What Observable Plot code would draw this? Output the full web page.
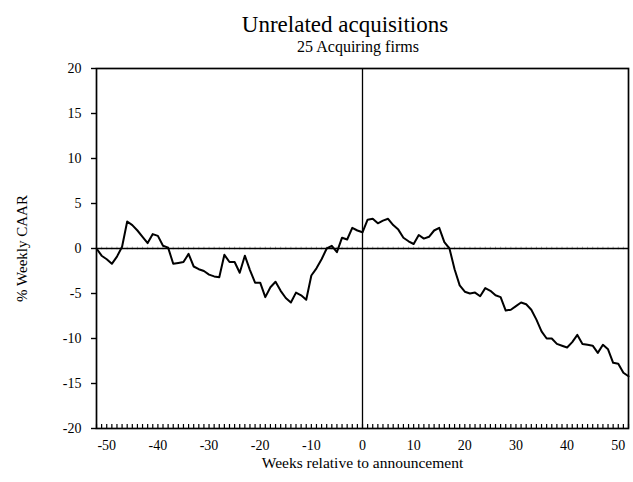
<!DOCTYPE html>
<html>
<head>
<meta charset="utf-8">
<script src="https://cdn.jsdelivr.net/npm/d3@7"></script>
<script src="https://cdn.jsdelivr.net/npm/@observablehq/plot@0.6"></script>
<style>
  body { margin: 0; background: #fff; font-family: "Liberation Serif", "DejaVu Serif", serif; color: #000; }
  #wrap { width: 633px; height: 482px; position: relative; overflow: hidden; }
  #head { height: 56px; position: relative; }
  .t { position: absolute; left: 0; width: 633px; box-sizing: border-box; text-align: center; white-space: nowrap; }
  #title { top: 11px; font-size: 23px; line-height: 28px; padding-left: 57px; }
  #subtitle { top: 38px; font-size: 16px; line-height: 18px; padding-left: 83px; }
</style>
</head>
<body>
<div id="wrap">
  <div id="head">
    <div id="title" class="t">Unrelated acquisitions</div>
    <div id="subtitle" class="t">25 Acquiring firms</div>
  </div>
  <div id="chart"></div>
</div>
<script>
const titleText = "Unrelated acquisitions";
const subtitleText = "25 Acquiring firms";
const xLabel = "Weeks relative to announcement";
const yLabel = "% Weekly CAAR";

const weeks = [
  -52,-51,-50,-49,-48,-47,-46,-45,-44,-43,-42,-41,-40,-39,-38,-37,-36,-35,-34,-33,
  -32,-31,-30,-29,-28,-27,-26,-25,-24,-23,-22,-21,-20,-19,-18,-17,-16,-15,-14,-13,
  -12,-11,-10,-9,-8,-7,-6,-5,-4,-3,-2,-1,0,1,2,3,4,5,6,7,
  8,9,10,11,12,13,14,15,16,17,18,19,20,21,22,23,24,25,26,27,
  28,29,30,31,32,33,34,35,36,37,38,39,40,41,42,43,44,45,46,47,
  48,49,50,51,52
];
const caar = [
  0.0,-0.8,-1.2,-1.7,-0.9,0.2,3.0,2.6,2.0,1.3,0.6,1.6,1.4,0.3,0.1,-1.7,-1.6,-1.5,-0.6,-2.0,
  -2.3,-2.5,-2.9,-3.1,-3.2,-0.7,-1.5,-1.5,-2.7,-0.8,-2.4,-3.8,-3.8,-5.4,-4.3,-3.7,-4.7,-5.5,-6.0,-4.9,
  -5.2,-5.7,-3.0,-2.2,-1.2,0.0,0.3,-0.4,1.2,1.0,2.3,2.0,1.8,3.2,3.3,2.8,3.1,3.3,2.6,2.1,
  1.2,0.8,0.5,1.5,1.1,1.3,2.0,2.3,0.7,0.0,-2.3,-4.1,-4.8,-5.0,-4.9,-5.3,-4.4,-4.7,-5.2,-5.4,
  -6.9,-6.8,-6.4,-6.0,-6.2,-6.8,-7.9,-9.2,-10.0,-10.0,-10.6,-10.8,-11.0,-10.4,-9.6,-10.6,-10.7,-10.8,-11.6,-10.7,
  -11.2,-12.7,-12.8,-13.8,-14.2
];
const xTickLabels = [-50,-40,-30,-20,-10,0,10,20,30,40,50];
const yTickLabels = [-20,-15,-10,-5,0,5,10,15,20];

document.getElementById("title").textContent = titleText;
document.getElementById("subtitle").textContent = subtitleText;

const rows = weeks.map((w, i) => ({week: w, caar: caar[i]}));

const chart = Plot.plot({
  width: 633,
  height: 426,
  marginLeft: 96,
  marginRight: 5,
  marginTop: 12,
  marginBottom: 54,
  x: {domain: [-52, 52]},
  y: {domain: [-20, 20]},
  style: {fontFamily: '"Liberation Serif", "DejaVu Serif", serif', fontSize: "14px", color: "#000", background: "#fff", overflow: "visible"},
  marks: [
    Plot.ruleY([0], {stroke: "#000", strokeWidth: 1.5}),
    Plot.ruleX([0], {stroke: "#000", strokeWidth: 1.3}),
    Plot.ruleX(weeks, {x: d => d, y1: -0.15, y2: 0.15, stroke: "#000", strokeWidth: 0.7, strokeOpacity: 0.45}),
    Plot.axisY(yTickLabels, {tickSize: 5, tickPadding: 10, tickFormat: d => String(d), label: null, strokeWidth: 1.4}),
    Plot.axisX(xTickLabels, {tickSize: 0, tickPadding: 12, tickFormat: d => String(d), label: null}),
    Plot.axisX(weeks, {tickSize: -4, text: null, label: null, strokeWidth: 1.2}),
    Plot.frame({stroke: "#000", strokeWidth: 1.7}),
    Plot.text([xLabel], {frameAnchor: "bottom", dy: 39, fontSize: 15.5}),
    Plot.text([yLabel], {frameAnchor: "left", textAnchor: "middle", rotate: -90, dx: -74, fontSize: 15}),
    Plot.line(rows, {x: "week", y: "caar", stroke: "#000", strokeWidth: 2, strokeLinejoin: "round"})
  ]
});
document.getElementById("chart").appendChild(chart);
</script>
</body>
</html>
